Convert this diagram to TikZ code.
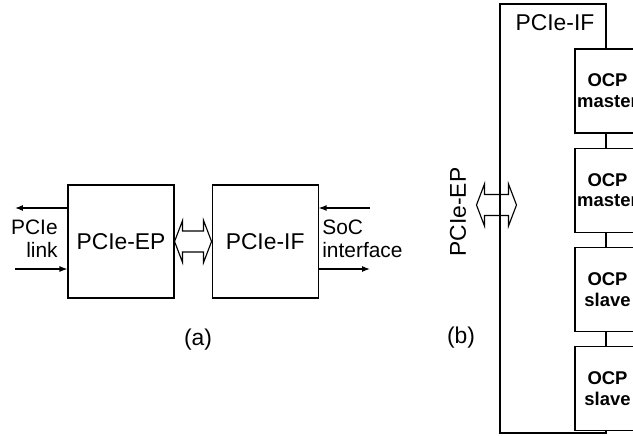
\documentclass[tikz,border=0pt]{standalone}
\usepackage{fontspec}
\setmainfont{Liberation Sans}
\usetikzlibrary{arrows.meta,positioning,calc}
\tikzset{
  blk/.style={rectangle, draw=black, line width=0.65pt, minimum width=2.12cm,
    minimum height=2.26cm, inner sep=0pt, font=\fontsize{13}{15}\selectfont},
  ocp/.style={rectangle, draw=black, fill=white, line width=0.65pt, align=center,
    minimum width=1.3cm, minimum height=1.68cm, inner sep=0pt,
    font=\fontsize{10.5}{11.9}\selectfont\bfseries},
  sig/.style={-{Latex[length=1.6mm,width=1.2mm]}, line width=0.65pt},
  fat/.style={draw=black, line width=0.65pt, line join=miter},
  lbl/.style={inner sep=0pt, font=\fontsize{11.9}{13.1}\selectfont},
  figtag/.style={inner sep=0pt, font=\fontsize{13}{15}\selectfont},
}
% hollow double arrow between two points on one level
\newcommand{\fatarrow}[2]{%
  \draw[fat] (#1) -- ++(8,-21) -- ++(0,10.5) -- ($(#2)+(-8,-10.5)$) -- ++(0,-10.5)
    -- (#2) -- ++(-8,21) -- ++(0,-10.5) -- ($(#1)+(8,10.5)$) -- ++(0,10.5) -- cycle;}

\begin{document}
\begin{tikzpicture}[x=0.02cm, y=-0.02cm]
    \clip (0,0) rectangle (633,436);

    % (a)
    \node[blk] (ep) at (121,241.5) {PCIe-EP};
    \node[blk, right=0.74cm of ep] (ifa) {PCIe-IF};
    \fatarrow{ep.east}{ifa.west}

    \coordinate (linkout) at (15,208);
    \coordinate (linkin) at (15,269);
    \coordinate (socin) at (370,208);
    \coordinate (socout) at (370,269);
    \draw[sig] (ep.west |- linkout) -- (linkout);
    \draw[sig] (linkin) -- (linkin -| ep.west);
    \draw[sig] (socin) -- (socin -| ifa.east);
    \draw[sig] (ifa.east |- socout) -- (socout);

    \node[lbl, align=right, anchor=east] (link) at (58,239) {PCIe\\link};
    \node[lbl, align=left, anchor=west] (soc) at (322,239) {SoC\\interface};
    \node[figtag] (taga) at (198,340) {(a)};

    % (b)
    \node[blk, minimum height=8.58cm] (ifb) at (553,218.5) {};
    \node[figtag, below=0.22cm of ifb.north, xshift=0.04cm] (ifbl) {PCIe-IF};

    \node[ocp] (m1) at (607.5,91) {OCP\\master};
    \node[ocp, below=0.28cm of m1] (m2) {OCP\\master};
    \node[ocp, below=0.28cm of m2] (s1) {OCP\\slave};
    \node[ocp, below=0.28cm of s1] (s2) {OCP\\slave};

    \coordinate (epl) at (476.5,205);
    \coordinate (epr) at (516.5,205);
    \fatarrow{epl}{epr}
    \node[figtag, rotate=90] (epb) at (458,212) {PCIe-EP};
    \node[figtag] (tagb) at (461,338) {(b)};
\end{tikzpicture}
\end{document}
